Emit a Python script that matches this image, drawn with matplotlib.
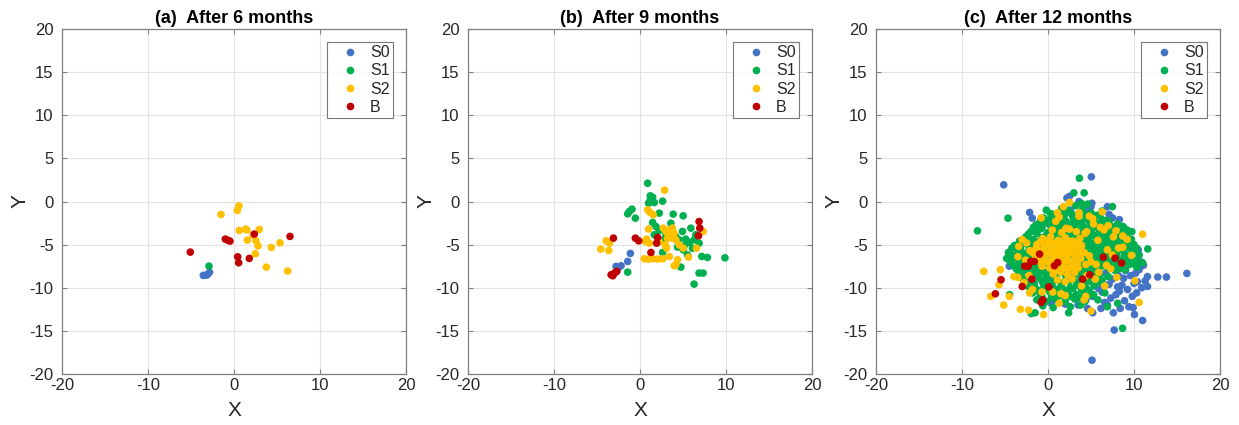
import matplotlib
matplotlib.use("Agg")
import matplotlib.pyplot as plt
from matplotlib.lines import Line2D

plt.rcParams['font.family'] = ['Liberation Sans', 'DejaVu Sans']
plt.rcParams['axes.unicode_minus'] = False

# ---------------------------------------------------------------- data
titles = ["(a)  After 6 months", "(b)  After 9 months", "(c)  After 12 months"]
series_names = ["S0", "S1", "S2", "B"]
series_colors = ["#4472C4", "#00B050", "#FFC000", "#C00000"]
xticks = [-20, -10, 0, 10, 20]
yticks = [-20, -15, -10, -5, 0, 5, 10, 15, 20]

# (a) after 6 months
a_s0_x = [-3.57, -3.30, -3.10, -2.85]
a_s0_y = [-8.57, -8.55, -8.49, -8.20]
a_s1_x = [-2.91]
a_s1_y = [-7.49]
a_s2_x = [-1.51, 0.58, 0.39, 0.62, 1.36, 1.50, 2.95, 1.55, 2.56, 2.79, 2.48, 4.34, 5.35, 3.76, 6.24, 2.20]
a_s2_y = [-1.51, -0.50, -1.04, -3.36, -3.20, -3.30, -3.24, -4.48, -4.56, -5.14, -6.06, -5.33, -4.79, -7.61, -8.07, -3.90]
a_b_x = [-5.08, -1.01, -0.70, -0.47, 2.36, 6.51, 0.43, 0.54, 1.78]
a_b_y = [-5.87, -4.36, -4.50, -4.59, -3.78, -4.05, -6.41, -7.10, -6.60]

# (b) after 9 months
b_s0_x = [-1.12, -1.43, -2.20, -2.78, -2.47]
b_s0_y = [-6.02, -6.95, -7.45, -7.53, -7.64]
b_s1_x = [0.89, 1.20, 1.16, 1.00, 1.66, 1.47, 2.63, -0.93, -1.24, -1.43, -0.54, 2.24, 3.86, 5.02,
          1.47, 1.85, 2.24, 1.66, 2.16, 3.59, 4.94, 5.91, 5.33, 5.71, 6.29, 6.87, 6.49, 4.56, 4.17,
          7.18, 7.84, 9.88, 6.87, 7.34, 6.29, -1.43, 2.63, 4.75, 5.02, 5.52, 5.14, 3.01, 2.82, 4.36, 6.10]
b_s1_y = [2.12, 0.66, 0.12, -0.19, -0.12, 0.50, 0.04, -0.89, -1.16, -1.43, -1.93, -1.35, -1.47, -1.66,
          -2.43, -2.90, -3.36, -3.86, -4.36, -2.51, -3.47, -3.09, -4.36, -4.75, -4.44, -4.83, -3.86, -4.44, -4.05,
          -6.37, -6.49, -6.53, -8.30, -8.30, -9.58, -8.19, -5.91, -7.61, -5.60, -6.18, -5.14, -3.86, -4.44, -5.29, -5.41]
b_s2_x = [2.86, 0.89, 1.16, 1.54, 1.00, 2.70, 3.01, 3.40, 3.78, 3.59, 3.98, 3.20, 4.17, 3.71,
          -3.94, -3.55, -4.56, -3.63, 0.62, 0.77, 1.08, 0.50, 1.00, 1.47, 2.05, 2.63, 3.09, 3.40,
          4.36, 4.17, 3.98, 4.56, 5.02, 5.64, 6.56, 7.34, 2.24, 2.93]
b_s2_y = [1.31, -0.97, -1.27, -1.54, -3.20, -3.09, -3.47, -3.28, -3.09, -3.86, -3.67, -4.25, -4.44, -4.25,
          -4.56, -4.83, -5.52, -5.68, -4.63, -4.36, -4.83, -6.64, -6.68, -6.64, -6.68, -6.64, -5.41, -6.37,
          -6.76, -7.34, -7.45, -5.02, -5.41, -6.45, -5.41, -3.47, -4.63, -5.02]
b_b_x = [-3.09, -0.54, -0.15, 2.05, 1.93, 1.27, 6.87, 6.95, 6.80, -3.36, -2.97, -2.70, -3.17]
b_b_y = [-4.25, -4.25, -4.56, -4.17, -4.83, -5.91, -2.32, -3.09, -3.98, -8.49, -8.30, -8.11, -8.61]

# (c) after 12 months
c_s0_x = [-5.15, 5.04, 5.12, 16.15, 12.76, 13.77, 11.57, 11.57, 11.00, 10.05, 9.40, 7.70, 8.40, 6.16,
          5.20, 10.50, 10.60, 10.20, 9.25, 8.30, -2.14, -1.83, -3.30, -3.50, -4.50,
          2.20, 2.50, 5.10, 5.00, 6.90, 7.10, 7.50, 8.30, 6.40, 6.90, 7.90, 1.30, 2.10, 0.90, -1.60,
          -0.20, 0.20, 3.00, 3.60, 4.60, 2.60, 1.60,
          7.50, 8.60, 7.90, 7.30, 6.30, 5.90, 5.20, 4.40, 3.30, 9.50, 9.00, 8.20, 10.00, 9.80, 6.70,
          5.80, 6.30, 7.20, 8.70, 9.70, 9.20, 4.80, 4.10, 3.50, 4.60, 6.90, 2.00, 1.20, 0.30, -0.60,
          -1.30, -2.50, -3.80, -1.00, -1.50, 0.40, 10.90, 11.30, 10.30, 8.90, 7.60, 9.90, 10.40, 11.10,
          8.80, 9.60, 7.10, 6.60, 8.10, 5.40, 10.80]
c_s0_y = [1.93, 2.86, -18.40, -8.34, -8.76, -8.76, -8.70, -9.85, -13.80, -13.10, -12.20, -14.90, -12.40, -12.40,
          -12.90, -5.60, -7.90, -8.30, -10.20, -10.40, -1.27, -1.93, -4.60, -5.00, -7.50,
          0.40, 0.60, -0.20, -0.60, -0.60, -1.50, -1.90, -2.10, -2.50, -3.50, -4.10, -2.10, -2.90, -3.10, -3.10,
          -4.60, -2.70, -1.60, 0.00, -0.90, -1.00, -1.20,
          -9.00, -9.70, -10.80, -11.20, -10.50, -10.10, -11.00, -11.40, -11.20, -6.80, -8.00, -8.60, -9.50, -11.00, -8.30,
          -7.90, -6.90, -7.50, -5.50, -6.20, -4.80, -9.20, -10.20, -12.00, -12.40, -12.00, -11.90, -10.60, -8.90, -9.40,
          -10.30, -6.80, -6.30, -2.60, -5.10, -11.80, -10.00, -9.20, -10.60, -11.50, -12.90, -12.30, -9.30, -7.40,
          -8.90, -8.60, -9.60, -11.70, -9.90, -9.80, -7.00]
c_s1_x = ([3.65, -4.65, -8.20, 4.20, 3.00, 3.86, 7.50, 8.67, 9.70, 8.67, 2.40, -1.95, -1.50, -4.46,
           -0.2, 0.3, 1.6, 2.3, 3.2, 4.0, 4.6, 6.3,
           -0.5, 0.2, 1.0, 2.9, 3.7, 4.4, 5.3, 6.0, 6.8,
           -1.4, -0.2, 0.7, 1.6, 2.6, 3.4, 4.1, 4.9, 5.7, 6.5, 7.3, 8.1, 8.7,
           -2.0, -1.1, 0.0, 1.1, 1.9, 2.8, 3.5, 4.3, 5.1, 5.9, 6.7, 7.5, 8.4, 9.2, 9.75,
           -2.6, -1.7, -0.7, 0.4, 1.4, 2.4, 3.2, 4.0, 4.7, 5.5, 6.3, 7.1, 7.9, 8.7, 9.5,
           -3.9, -2.9, -1.9, -0.9, 0.6, 1.6, 2.7, 3.6, 4.4, 5.2, 6.0, 6.8, 7.6, 8.4, 9.2, 10.0,
           -4.6, -3.5, -2.6, -1.5, 0.0, 1.2, 2.3, 3.3, 4.1, 4.9, 5.7, 6.5, 7.3, 8.1, 8.9, 9.8, 11.6,
           -4.8, -3.9, -2.9, -1.9, -0.8, 0.5, 1.6, 2.7, 3.6, 4.4, 5.2, 6.0, 6.8, 7.6, 8.5, 9.3, 10.2, 11.0,
           -4.0, -3.1, -2.2, -1.2, 0.0, 1.1, 2.2, 3.1, 3.9, 4.7, 5.4, 6.2, 7.7, 8.6, 9.5, 10.3,
           -3.4, -2.5, -1.6, -0.6, 0.5, 1.5, 2.5, 3.4, 4.2, 5.1, 6.0, 7.8,
           -2.9, -2.0, -1.0, 0.0, 1.0, 2.0, 2.9, 3.8, 4.6, 6.3,
           -2.4, -1.5, -0.5, 0.6, 1.6, 2.6, 3.5, 4.4, 5.4,
           -1.8, -0.9, 0.2, 1.2, 2.3, 3.3, 4.2, 5.3, 6.6,
           -1.3, -0.2, 0.9, 2.0, 3.1, 4.3, 5.8,
           -0.6, 0.6, 2.6, 3.8, 6.9, 8.1]
          + [0.7, 1.9, 2.7, 3.5, 5.0, 5.7,
             -0.9, 0.3, 1.2, 2.1, 3.0, 3.9, 4.7, 5.5, 6.3, 7.1,
             -1.7, -0.7, 0.4, 1.4, 2.3, 3.1, 3.9, 4.6, 5.4, 6.2, 7.0, 7.8, 8.8,
             -2.3, -1.3, -0.2, 0.8, 1.8, 2.7, 3.6, 4.5, 5.2, 6.0, 6.8, 7.6, 8.4, 9.2,
             -3.3, -2.3, -1.3, -0.1, 1.0, 2.0, 3.1, 4.0, 4.8, 5.6, 6.5, 7.3, 8.1, 8.9, 9.7,
             -4.2, -3.2, -2.2, -1.0, 0.5, 1.8, 2.9, 3.8, 4.6, 5.4, 6.2, 7.0, 7.8, 8.6, 9.4, 10.3,
             -4.2, -3.2, -2.2, -1.1, 0.6, 2.0, 3.0, 4.0, 4.9, 5.6, 6.4, 7.2, 8.0, 8.9, 9.7, 10.6,
             -4.4, -3.4, -2.5, -1.5, -0.4, 0.8, 1.9, 2.8, 3.6, 4.4, 5.0, 5.8, 6.6, 7.3, 8.1, 9.0, 9.9,
             -3.7, -2.8, -1.9, -0.9, 0.2, 1.2, 2.0, 2.9, 3.8, 4.6, 5.5, 7.0, 8.2, 9.0,
             -3.1, -2.2, -1.2, -0.2, 0.9, 2.0, 2.9, 3.8, 4.7, 5.5, 7.0,
             -2.6, -1.6, -0.6, 0.5, 1.5, 2.4, 3.3, 4.2, 5.0, 5.8,
             -2.0, -1.1, 0.0, 1.1, 2.0, 2.9, 3.9, 4.8,
             -0.7, 0.4, 1.5, 2.6, 3.7, 4.8])
c_s1_y = ([2.70, -1.93, -3.40, 1.00, 1.00, -0.20, -0.60, -2.90, -4.40, -14.70, -12.90, -13.00, -12.90, -10.80,
           -1.0, -1.4, -0.8, -1.0, -0.5, -0.9, -0.3, -1.1,
           -1.9, -2.1, -1.7, -1.8, -2.2, -1.6, -1.9, -1.6, -2.2,
           -2.7, -2.5, -2.8, -2.4, -2.7, -2.5, -2.9, -2.4, -2.8, -2.5, -2.9, -2.6, -2.9,
           -3.5, -3.3, -3.6, -3.2, -3.5, -3.3, -3.7, -3.3, -3.6, -3.2, -3.6, -3.4, -3.7, -3.3, -3.5,
           -4.1, -4.4, -4.2, -4.0, -4.3, -4.1, -4.4, -4.1, -4.4, -4.0, -4.3, -4.1, -4.4, -4.1, -4.4,
           -5.1, -4.9, -5.2, -5.0, -4.8, -5.1, -5.0, -4.8, -5.2, -4.9, -5.2, -4.9, -5.2, -4.9, -5.2, -5.0,
           -5.9, -5.7, -6.0, -5.8, -5.7, -6.0, -5.8, -5.6, -5.9, -5.7, -6.0, -5.7, -6.0, -5.7, -6.0, -5.8, -5.5,
           -6.6, -6.5, -6.8, -6.6, -6.9, -6.5, -6.8, -6.6, -6.9, -6.5, -6.8, -6.5, -6.8, -6.5, -6.8, -6.5, -6.8, -7.1,
           -7.4, -7.6, -7.3, -7.6, -7.3, -7.6, -7.3, -7.6, -7.3, -7.6, -7.2, -7.5, -7.4, -7.7, -7.3, -7.6,
           -8.2, -8.0, -8.3, -8.1, -8.4, -8.1, -8.3, -8.0, -8.3, -8.1, -8.4, -8.0,
           -9.0, -9.2, -8.9, -9.2, -8.9, -9.2, -8.9, -9.2, -8.9, -9.1,
           -9.8, -10.0, -9.7, -10.0, -9.7, -10.0, -9.7, -10.0, -9.7,
           -10.6, -10.8, -10.5, -10.8, -10.5, -10.8, -10.5, -10.8, -10.6,
           -11.4, -11.6, -11.3, -11.6, -11.3, -11.6, -11.4,
           -12.1, -12.3, -12.2, -12.0, -12.2, -11.8]
          + [-1.5, -1.6, -1.4, -1.5, -1.3, -1.6,
             -2.3, -2.2, -2.4, -2.3, -2.1, -2.3, -2.2, -2.4, -2.1, -2.3,
             -3.0, -3.1, -2.9, -3.0, -3.1, -2.9, -3.0, -3.1, -2.9, -3.0, -3.1, -2.9, -3.0,
             -3.8, -3.7, -3.9, -3.8, -3.7, -3.9, -3.8, -3.7, -3.9, -3.8, -3.7, -3.9, -3.8, -3.7,
             -4.6, -4.5, -4.7, -4.6, -4.5, -4.7, -4.6, -4.5, -4.7, -4.6, -4.5, -4.7, -4.6, -4.5, -4.7,
             -5.4, -5.5, -5.3, -5.4, -5.5, -5.3, -5.4, -5.5, -5.3, -5.4, -5.5, -5.3, -5.4, -5.5, -5.3, -5.4,
             -6.2, -6.3, -6.1, -6.2, -6.3, -6.1, -6.2, -6.3, -6.1, -6.2, -6.3, -6.1, -6.2, -6.3, -6.1, -6.2,
             -7.0, -7.1, -6.9, -7.0, -7.1, -6.9, -7.0, -7.1, -6.9, -7.0, -7.1, -6.9, -7.0, -7.1, -6.9, -7.0, -7.1,
             -7.8, -7.9, -7.7, -7.8, -7.9, -7.7, -7.8, -7.9, -7.7, -7.8, -7.9, -7.7, -7.8, -7.9,
             -8.6, -8.7, -8.5, -8.6, -8.7, -8.5, -8.6, -8.7, -8.5, -8.6, -8.7,
             -9.4, -9.5, -9.3, -9.4, -9.5, -9.3, -9.4, -9.5, -9.3, -9.4,
             -10.2, -10.3, -10.1, -10.2, -10.3, -10.1, -10.2, -10.3,
             -11.0, -11.1, -10.9, -11.0, -11.1, -10.9])
c_s2_x = [-0.6, 0.3, 1.2, 2.0, 2.9, 3.7,
          -1.3, -0.4, 0.5, 1.4, 2.2, 3.1, 3.9,
          -1.8, -0.9, 0.1, 0.9, 1.8, 2.6, 3.4, 4.2,
          -1.2, -0.3, 0.6, 1.4, 2.2, 3.0, 3.8,
          -0.7, 0.2, 1.0, 1.9, 2.7, 3.5, 4.4,
          0.6, 1.5, 2.3, 3.1,
          1.1, 2.0, 2.8,
          0.5, 1.6, 2.5, 3.3, 1.1, 1.3, 0.9, 2.1, 2.5, 3.6, 3.6, 4.8, -0.8,
          4.3, 4.5, 7.0, 6.5, 7.6, 8.7, 9.2, 8.2, 8.7, 5.0, 5.6, 6.8, 7.3, 5.5, 6.6, 9.7, 10.1, 11.0, 10.6,
          -3.4, -3.5, -2.6, -2.1, -2.5, -3.0, -3.96, -3.5, -2.8, -2.2,
          -7.47, -5.54, -5.70, -6.66, -5.15, -4.50, -3.20, -2.26, -0.52, 1.3, 1.5, 0.55, -0.7, -2.15,
          -1.8, 5.0, 4.2, 4.4, 2.0,
          -0.9, 0.0, 0.9, 1.7, 2.5, 3.3,
          -1.4, -0.5, 0.4, 1.3, 2.1, 2.9, 3.7,
          -1.5, -0.4, 0.5, 1.3, 2.2, 3.0, 3.8,
          -0.8, 0.1, 1.0, 1.8, 2.6, 3.4,
          0.6, 1.4, 2.3, 3.1,
          5.3, 6.1, 7.9, 5.8, 6.9, 4.8, 7.5, 5.9, 8.0, 3.9, 4.5, 5.2, 6.3, 1.8]
c_s2_y = [-4.3, -4.1, -4.5, -4.2, -4.6, -4.3,
          -5.0, -5.2, -4.9, -5.3, -5.0, -5.4, -5.1,
          -5.9, -5.7, -6.0, -5.8, -6.1, -5.8, -6.2, -5.9,
          -6.6, -6.9, -6.6, -6.9, -6.6, -6.9, -6.6,
          -7.5, -7.7, -7.4, -7.7, -7.4, -7.7, -7.3,
          -8.4, -8.2, -8.5, -8.2,
          -9.1, -9.3, -9.0,
          -3.3, -3.6, -3.2, -3.5, -1.3, -1.8, -2.3, -3.1, -0.1, -1.3, -1.7, -1.7, -1.9,
          -3.7, -3.5, -2.8, -3.3, -4.1, -4.0, -4.4, -5.4, -5.3, -7.0, -7.3, -7.4, -7.8, -9.0, -9.8, -6.25, -9.2, -3.8, -11.7,
          -5.2, -6.4, -6.8, -5.7, -4.8, -4.4, -8.7, -8.8, -9.4, -8.6,
          -8.1, -7.9, -9.65, -11.0, -12.0, -11.0, -12.5, -12.6, -13.1, -11.8, -10.7, -10.5, -10.5, -10.6,
          -10.2, -12.7, -11.4, -11.0, -10.9,
          -4.7, -4.6, -4.8, -4.7, -4.6, -4.8,
          -5.5, -5.6, -5.4, -5.5, -5.6, -5.4, -5.5,
          -6.2, -6.3, -6.1, -6.2, -6.3, -6.1, -6.2,
          -7.1, -7.0, -7.2, -7.1, -7.0, -7.2,
          -7.9, -8.0, -7.8, -7.9,
          -2.6, -3.0, -3.4, -4.5, -5.6, -6.3, -6.2, -8.2, -8.8, -9.8, -8.6, -2.0, -1.2, -0.6]
c_b_x = [-0.98, -1.60, -2.00, -2.70, -2.30, -1.87, -3.00, -5.46, -6.12, -0.80, -0.60, 0.10, 0.75, 1.13,
         4.03, 4.85, 6.43, 7.80, 8.55]
c_b_y = [-6.10, -6.95, -6.95, -7.50, -7.50, -9.00, -9.85, -9.07, -10.70, -11.70, -11.40, -9.90, -7.45, -7.07,
         -9.00, -8.50, -6.45, -6.56, -7.14]

panels = [
    [(a_s0_x, a_s0_y), (a_s1_x, a_s1_y), (a_s2_x, a_s2_y), (a_b_x, a_b_y)],
    [(b_s0_x, b_s0_y), (b_s1_x, b_s1_y), (b_s2_x, b_s2_y), (b_b_x, b_b_y)],
    [(c_s0_x, c_s0_y), (c_s1_x, c_s1_y), (c_s2_x, c_s2_y), (c_b_x, c_b_y)],
]

# ---------------------------------------------------------------- figure
W, H = 1239, 425
fig = plt.figure(figsize=(W / 100, H / 100), dpi=100)
lefts = [62, 468, 876]
ax_w, ax_h, ax_bottom = 344, 345, 51

axis_col = "#808080"
text_col = "#262626"

for left, title, groups in zip(lefts, titles, panels):
    ax = fig.add_axes([left / W, ax_bottom / H, ax_w / W, ax_h / H])
    for (xs, ys), name, col in zip(groups, series_names, series_colors):
        ax.scatter(xs, ys, s=30, color=col, edgecolors="none", label=name, zorder=3)

    ax.set_xlim(-20, 20)
    ax.set_ylim(-20, 20)
    ax.set_xticks(xticks)
    ax.set_yticks(yticks)
    ax.grid(True, color="#e3e3e3", linewidth=0.8, zorder=0)
    ax.set_axisbelow(True)
    for sp in ax.spines.values():
        sp.set_color(axis_col)
        sp.set_linewidth(0.9)
    ax.tick_params(direction="in", length=3.5, width=0.8, color=axis_col,
                   labelcolor=text_col, labelsize=12, top=True, right=True)
    ax.tick_params(axis="x", pad=3)
    ax.tick_params(axis="y", pad=6)
    ax.set_xlabel("X", fontsize=15, color=text_col, labelpad=6)
    ax.set_ylabel("Y", fontsize=15, color=text_col, labelpad=0)
    ax.set_title(title, fontsize=13, fontweight="bold", color="black", pad=4)

    handles = [Line2D([], [], linestyle="none", marker="o", markersize=5.5,
                      markerfacecolor=c, markeredgecolor="none") for c in series_colors]
    leg = ax.legend(handles, series_names, loc="upper right", fontsize=11.5,
                    frameon=True, fancybox=False, borderaxespad=0.8,
                    handlelength=2.5, handletextpad=0.0, labelspacing=0.2,
                    borderpad=0.22)
    leg.get_frame().set_edgecolor("#555555")
    leg.get_frame().set_linewidth(0.8)
    for t in leg.get_texts():
        t.set_color(text_col)

fig.savefig("out.png", dpi=100)
